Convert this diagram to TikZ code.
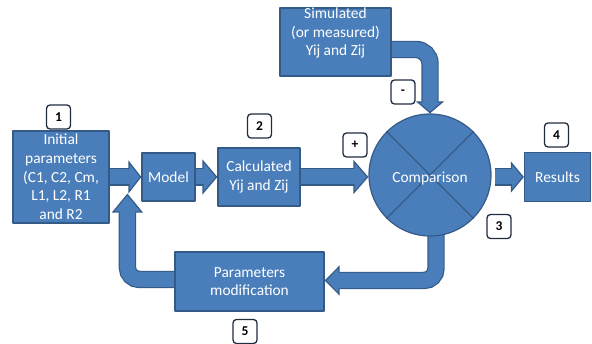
\documentclass[tikz,border=0pt]{standalone}
\usepackage{fontspec}
\setmainfont{Carlito}
\usepackage{tikz}
\usetikzlibrary{arrows.meta,calc,backgrounds}

\definecolor{boxblue}{RGB}{74,126,187}
\definecolor{boxline}{RGB}{52,90,136}
\definecolor{tagline}{RGB}{32,44,64}

\begin{document}
\begin{tikzpicture}[x=1pt,y=-1pt,line join=round,
  blk/.style={draw=boxline,fill=boxblue,line width=1.2pt,text=white,align=center,inner sep=0pt,font=\fontsize{15.4}{18.7}\selectfont},
  txt/.style={text=white,align=center,inner sep=0pt,font=\fontsize{15.4}{18.7}\selectfont},
  tag/.style={draw=tagline,fill=white,rounded corners=3.5pt,line width=1.3pt,minimum width=24pt,minimum height=24pt,inner sep=0pt,font=\bfseries\fontsize{13.5}{15}\selectfont},
  flow/.style 2 args={draw=boxblue,line width=15pt,shorten >=#1-2.5pt,
    preaction={draw=boxline,line width=17.4pt,shorten >=0pt,-{Triangle[length=#1,width=#2,fill=boxblue,line width=1.2pt]}}}]
  \useasboundingbox (0,0) rectangle (592,344);

  \node[blk,minimum width=96pt,minimum height=92pt] (init) at (61,177) {Initial\\parameters\\(C1, C2, Cm,\\L1, L2, R1\\and R2};
  \node[blk,minimum width=53pt,minimum height=48pt] (model) at (168.5,177) {Model};
  \node[blk,minimum width=82pt,minimum height=58pt] (calc) at (259,177) {Calculated\\Yij and Zij};
  \node[blk,circle,minimum size=122pt] (comp) at (430,175) {};
  \draw[boxline,line width=1.2pt] (comp.45) -- (comp.225);
  \draw[boxline,line width=1.2pt] (comp.135) -- (comp.315);
  \node[txt] (comptxt) at ($(comp.center)+(0,3)$) {Comparison};
  \node[blk,minimum width=66pt,minimum height=49pt] (results) at (557.5,177) {Results};
  \node[blk,minimum width=111pt,minimum height=68pt] (sim) at (335.5,42) {};
  \node[txt] (simtxt) at ($(sim.center)+(0,-9)$) {Simulated\\(or measured)\\Yij and Zij};
  \node[blk,minimum width=149pt,minimum height=59pt] (params) at (249.5,281.5) {Parameters\\modification};
  \coordinate (fb) at ($(model.south west)+(-14,-8)$);

  \begin{scope}[on background layer]
    \draw[flow={13pt}{33pt}] (init.east |- model.west) -- (model.west);
    \draw[flow={15pt}{35pt}] (model.east) -- (calc.west);
    \draw[flow={15pt}{34pt}] (calc.east) -- (calc.east -| comp.west);
    \draw[flow={13pt}{31pt}] ($(comp.east |- results.west)+(3,0)$) -- (results.west);
    \draw[flow={12pt}{28pt},rounded corners=14pt] ($(sim.east)+(-2,7.5)$) -| (comp.north);
    \draw[flow={15pt}{30pt},rounded corners=12pt] ($(comp.south)+(6,-4)$) |- ($(params.east)+(0,-1)$);
    \draw[flow={19pt}{31pt},rounded corners=12pt] ($(params.west)+(2,-2)$) -| (fb);
  \end{scope}

  \node[tag] (t1) at (58.5,117) {1};
  \node[tag] (t2) at (259.5,126) {2};
  \node[tag] (tplus) at (355,145) {+};
  \node[tag] (tminus) at (403,92) {-};
  \node[tag] (t3) at (499,226.5) {3};
  \node[tag] (t4) at (556.5,135) {4};
  \node[tag] (t5) at (245,331.5) {5};
\end{tikzpicture}
\end{document}
